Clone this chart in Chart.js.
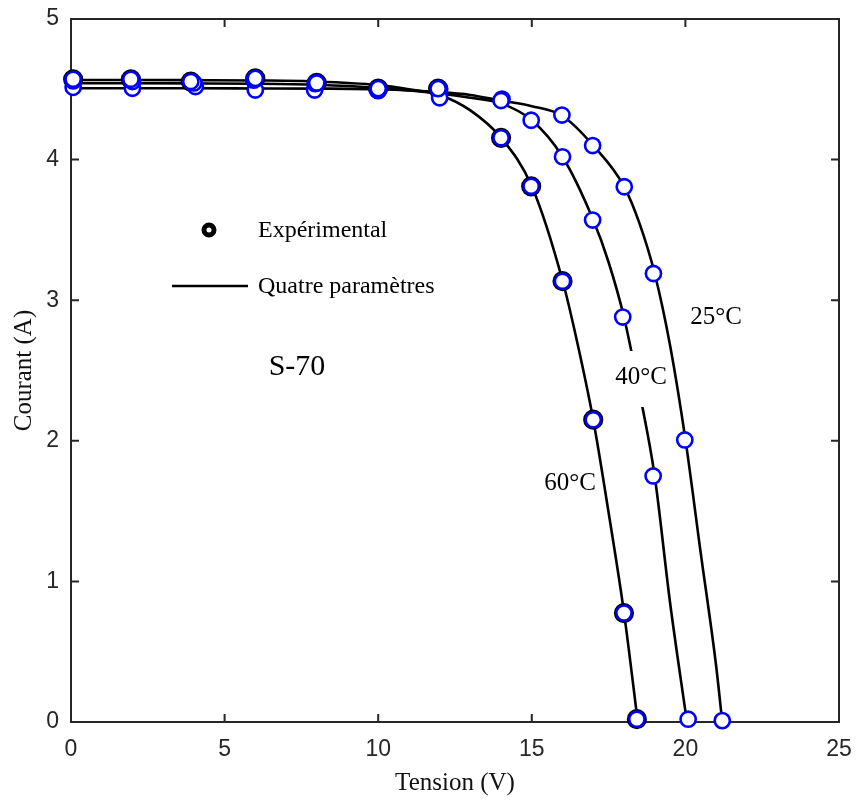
<!DOCTYPE html>
<html>
<head>
<meta charset="utf-8">
<script src="https://cdn.jsdelivr.net/npm/chart.js@4.4.1/dist/chart.umd.min.js"></script>
<style>
  html, body { margin: 0; padding: 0; background: #fff; }
  #wrap { width: 856px; height: 800px; }
</style>
</head>
<body>
<div id="wrap"><canvas id="ivChart" width="856" height="800"></canvas></div>
<script>
// model curves "Quatre paramètres"
const curveV60 = [0, 2, 4, 6, 8, 10, 11, 12, 13, 14, 15, 16, 16.5, 17, 17.5, 18, 18.45];
const curveI60 = [4.566, 4.566, 4.565, 4.563, 4.556, 4.53, 4.5, 4.46, 4.35, 4.155, 3.81, 3.14, 2.68, 2.15, 1.49, 0.78, 0];
const curveV40 = [0, 2, 4, 6, 8, 10, 12, 13, 14, 15, 16, 17, 17.5, 18, 18.5, 19, 19.5, 20.05];
const curveI40 = [4.543, 4.543, 4.542, 4.54, 4.532, 4.51, 4.47, 4.44, 4.4, 4.28, 4.02, 3.57, 3.27, 2.88, 2.35, 1.75, 0.85, 0];
const curveV25 = [0, 2, 4, 6, 8, 10, 12, 13, 14, 15, 16, 17, 18, 18.5, 19, 19.5, 20, 20.5, 21, 21.2];
const curveI25 = [4.507, 4.507, 4.507, 4.506, 4.505, 4.5, 4.48, 4.46, 4.42, 4.38, 4.31, 4.1, 3.81, 3.55, 3.19, 2.68, 2.01, 1.2, 0.4, 0];

// experimental points
const expV60 = [0.07, 1.95, 3.9, 6.0, 8.0, 10.0, 11.95, 14.0, 14.98, 16.0, 17.0, 18.0, 18.42];
const expI60 = [4.571, 4.571, 4.555, 4.578, 4.545, 4.505, 4.505, 4.155, 3.81, 3.135, 2.15, 0.775, 0.02];
const expV40 = [0.07, 2.0, 4.0, 5.95, 7.95, 9.97, 12.0, 14.0, 14.98, 16.0, 16.98, 17.96, 18.95, 20.09];
const expI40 = [4.56, 4.555, 4.545, 4.565, 4.54, 4.495, 4.44, 4.42, 4.28, 4.02, 3.57, 2.88, 1.75, 0.02];
const expV25 = [0.07, 2.0, 4.05, 6.0, 7.93, 10.0, 12.0, 14.03, 15.98, 16.98, 18.01, 18.96, 19.98, 21.2];
const expI25 = [4.514, 4.507, 4.52, 4.495, 4.495, 4.49, 4.5, 4.43, 4.317, 4.1, 3.807, 3.19, 2.006, 0.01];

const xTicks = [0, 5, 10, 15, 20, 25];
const yTicks = [0, 1, 2, 3, 4, 5];

const toXY = (vs, is) => vs.map((v, k) => ({ x: v, y: is[k] }));

const INK = '#262626';
const BLUE = '#0000ff';

function curveSet(vs, is) {
    return {
        data: toXY(vs, is),
        borderColor: '#000',
        borderWidth: 2.6,
        pointRadius: 0,
        cubicInterpolationMode: 'monotone',
        showLine: true,
        order: 10
    };
}

function expSet(vs, is) {
    return {
        data: toXY(vs, is),
        showLine: false,
        pointRadius: 7.6,
        pointBorderWidth: 2.6,
        pointBorderColor: BLUE,
        pointBackgroundColor: '#fff',
        clip: false,
        order: 1
    };
}

const decorPlugin = {
    id: 'decor',
    beforeDatasetsDraw(chart) {
        const { ctx, chartArea: a, scales: { x, y } } = chart;
        ctx.save();
        ctx.strokeStyle = INK;
        ctx.lineWidth = 2;
        ctx.strokeRect(a.left, a.top, a.right - a.left, a.bottom - a.top);
        ctx.beginPath();
        xTicks.forEach(v => {
            const px = x.getPixelForValue(v);
            ctx.moveTo(px, a.bottom); ctx.lineTo(px, a.bottom - 8);
            ctx.moveTo(px, a.top); ctx.lineTo(px, a.top + 8);
        });
        yTicks.forEach(v => {
            const py = y.getPixelForValue(v);
            ctx.moveTo(a.left, py); ctx.lineTo(a.left + 8, py);
            ctx.moveTo(a.right, py); ctx.lineTo(a.right - 8, py);
        });
        ctx.stroke();
        ctx.restore();
    },
    afterDatasetsDraw(chart) {
        const ctx = chart.ctx;
        ctx.save();
        // white box behind the 40°C label (cuts the curve)
        ctx.fillStyle = '#fff';
        ctx.fillRect(612, 351, 56, 56);

        ctx.fillStyle = '#000';
        ctx.textBaseline = 'middle';
        ctx.textAlign = 'center';
        ctx.font = '25px "Liberation Serif"';
        ctx.fillText('25°C', 716, 317);
        ctx.fillText('40°C', 641, 377);
        ctx.fillText('60°C', 570, 483);
        ctx.font = '30px "Liberation Serif"';
        ctx.fillText('S-70', 297, 367);

        // legend
        ctx.textAlign = 'left';
        ctx.font = '24px "Liberation Serif"';
        ctx.fillText('Expérimental', 258, 231);
        ctx.fillText('Quatre paramètres', 258, 287);
        ctx.beginPath();
        ctx.arc(209, 230, 5, 0, Math.PI * 2);
        ctx.strokeStyle = '#000';
        ctx.lineWidth = 5;
        ctx.stroke();
        ctx.beginPath();
        ctx.moveTo(172, 286);
        ctx.lineTo(248, 286);
        ctx.lineWidth = 2.5;
        ctx.stroke();
        ctx.restore();
    }
};

const ring60 = expSet(expV60, expI60);
ring60.pointRadius = 8.6;
ring60.pointBorderWidth = 3;
ring60.pointBorderColor = '#000';
ring60.order = 5;

new Chart(document.getElementById('ivChart'), {
    type: 'line',
    data: {
        datasets: [
            curveSet(curveV60, curveI60),
            curveSet(curveV40, curveI40),
            curveSet(curveV25, curveI25),
            ring60,
            expSet(expV60, expI60),
            expSet(expV40, expI40),
            expSet(expV25, expI25)
        ]
    },
    options: {
        responsive: false,
        animation: false,
        devicePixelRatio: 1,
        layout: { padding: { top: 19, right: 17, left: 0, bottom: 0 } },
        plugins: { legend: { display: false }, tooltip: { enabled: false } },
        scales: {
            x: {
                type: 'linear',
                min: 0, max: 25,
                afterFit: s => { s.height = 78; s.paddingLeft = 0; s.paddingRight = 0; },
                afterBuildTicks: s => { s.ticks = xTicks.map(v => ({ value: v })); },
                grid: { display: false, drawTicks: false },
                border: { display: false },
                ticks: { padding: 14, color: INK, font: { family: 'Liberation Sans', size: 23 } },
                title: { display: true, text: 'Tension (V)', color: '#111', padding: { top: 0, bottom: 2 },
                         font: { family: 'Liberation Serif', size: 25 } }
            },
            y: {
                type: 'linear',
                min: 0, max: 5,
                afterFit: s => { s.width = 71; s.paddingTop = 0; s.paddingBottom = 0; },
                afterBuildTicks: s => { s.ticks = yTicks.map(v => ({ value: v })); },
                grid: { display: false, drawTicks: false },
                border: { display: false },
                ticks: { padding: 12, color: INK, font: { family: 'Liberation Sans', size: 23 } },
                title: { display: true, text: 'Courant (A)', color: '#111', padding: { top: 9, bottom: 0 },
                         font: { family: 'Liberation Serif', size: 25 } }
            }
        }
    },
    plugins: [decorPlugin]
});
</script>
</body>
</html>
